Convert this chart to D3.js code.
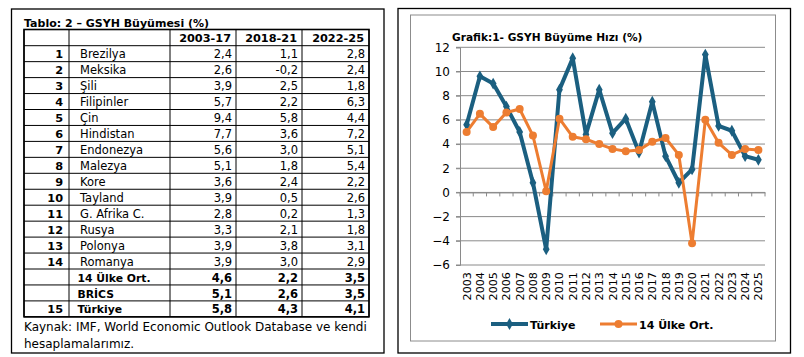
<!DOCTYPE html>
<html><head><meta charset="utf-8">
<script src="https://cdn.jsdelivr.net/npm/d3@7"></script>
<style>
html,body{margin:0;padding:0;background:#fff;}
svg{display:block;font-family:"DejaVu Sans",sans-serif;}
</style></head>
<body>
<script>
// ---------- DATA ----------
const tableTitle = "Tablo: 2 – GSYH Büyümesi (%)";
const periods = ["2003-17", "2018-21", "2022-25"];
const rowIndex = ["1","2","3","4","5","6","7","8","9","10","11","12","13","14","","","15"];
const countries = ["Brezilya","Meksika","Şili","Filipinler","Çin","Hindistan","Endonezya","Malezya","Kore","Tayland","G. Afrika C.","Rusya","Polonya","Romanya","14 Ülke Ort.","BRİCS","Türkiye"];
const p2003_17 = ["2,4","2,6","3,9","5,7","9,4","7,7","5,6","5,1","3,6","3,9","2,8","3,3","3,9","3,9","4,6","5,1","5,8"];
const p2018_21 = ["1,1","-0,2","2,5","2,2","5,8","3,6","3,0","1,8","2,4","0,5","0,2","2,1","3,8","3,0","2,2","2,6","4,3"];
const p2022_25 = ["2,8","2,4","1,8","6,3","4,4","7,2","5,1","5,4","2,2","2,6","1,3","1,8","3,1","2,9","3,5","3,5","4,1"];
const boldRows = [14, 15, 16];
const sourceNote = ["Kaynak: IMF, World Economic Outlook Database ve kendi", "hesaplamalarımız."];

const chartTitle = "Grafik:1- GSYH Büyüme Hızı (%)";
const years = ["2003","2004","2005","2006","2007","2008","2009","2010","2011","2012","2013","2014","2015","2016","2017","2018","2019","2020","2021","2022","2023","2024","2025"];
const turkiye = [5.6,9.6,9.0,7.1,5.0,0.8,-4.7,8.5,11.1,4.8,8.5,4.9,6.1,3.3,7.5,3.0,0.8,1.9,11.4,5.5,5.1,3.0,2.7];
const ulke14 = [5.0,6.5,5.4,6.6,6.9,4.7,0.1,6.1,4.6,4.4,4.0,3.6,3.4,3.5,4.2,4.5,3.1,-4.2,6.0,4.1,3.1,3.6,3.5];
const yTicks = [-6,-4,-2,0,2,4,6,8,10,12];
const seriesNames = ["Türkiye", "14 Ülke Ort."];

// ---------- DRAW ----------
const W = 804, H = 357;
const svg = d3.select("body").append("svg").attr("width", W).attr("height", H);

// ===== Table panel =====
svg.append("rect").attr("x", 11.5).attr("y", 9).attr("width", 372.5).attr("height", 344)
  .attr("fill", "none").attr("stroke", "#000").attr("stroke-width", 1.3);

svg.append("text").attr("x", 24).attr("y", 26.5).attr("font-size", 11).attr("font-weight", "bold")
  .text(tableTitle);

const colX = [24, 69, 170, 236, 302, 369];
const tTop = 29.5, headH = 16.2, rowH = 15.95;
const nRows = countries.length;
const tBottom = tTop + headH + nRows * rowH;
const g = svg.append("g");

const hLines = [tTop].concat(d3.range(nRows + 1).map(i => tTop + headH + i * rowH));
g.selectAll("line.h").data(hLines).join("line")
  .attr("x1", colX[0]).attr("x2", colX[5]).attr("y1", d => d).attr("y2", d => d)
  .attr("stroke", "#000").attr("stroke-width", 1);
g.selectAll("line.v").data(colX).join("line")
  .attr("x1", d => d).attr("x2", d => d).attr("y1", tTop).attr("y2", tBottom)
  .attr("stroke", "#000").attr("stroke-width", 1);
g.append("rect").attr("x", colX[0]).attr("y", tTop).attr("width", colX[5] - colX[0]).attr("height", tBottom - tTop)
  .attr("fill", "none").attr("stroke", "#000").attr("stroke-width", 1.6);

g.selectAll("text.hd").data(periods).join("text")
  .attr("x", (d, i) => colX[i + 3] - 5).attr("y", tTop + headH - 4)
  .attr("text-anchor", "end").attr("font-size", 11.3).attr("font-weight", "bold").text(d => d);

const rowY = i => tTop + headH + (i + 1) * rowH - 3.4;
g.selectAll("text.idx").data(rowIndex).join("text")
  .attr("x", colX[1] - 6).attr("y", (d, i) => rowY(i)).attr("text-anchor", "end")
  .attr("font-size", 11.3).attr("font-weight", "bold").text(d => d);
g.selectAll("text.ct").data(countries).join("text")
  .attr("x", (d, i) => colX[1] + (boldRows.includes(i) ? 8.5 : 11)).attr("y", (d, i) => rowY(i))
  .attr("font-size", (d, i) => boldRows.includes(i) ? 10.8 : 11.5)
  .attr("font-weight", (d, i) => boldRows.includes(i) ? "bold" : "normal").text(d => d);
[p2003_17, p2018_21, p2022_25].forEach((col, c) => {
  g.selectAll("text.v" + c).data(col).join("text")
    .attr("x", colX[c + 3] - 4).attr("y", (d, i) => rowY(i)).attr("text-anchor", "end")
    .attr("font-size", 11.5).attr("font-weight", (d, i) => boldRows.includes(i) ? "bold" : "normal").text(d => d);
});

svg.selectAll("text.src").data(sourceNote).join("text")
  .attr("x", 24).attr("y", (d, i) => 331 + i * 16.5).attr("font-size", 12).text(d => d);

// ===== Chart panel =====
svg.append("rect").attr("x", 398).attr("y", 8.5).attr("width", 392.5).attr("height", 344.5)
  .attr("fill", "none").attr("stroke", "#000").attr("stroke-width", 1.3);
svg.append("rect").attr("x", 410.5).attr("y", 15).attr("width", 365).attr("height", 326)
  .attr("fill", "none").attr("stroke", "#8c8c8c").attr("stroke-width", 1);

svg.append("text").attr("x", 452).attr("y", 40.5).attr("font-size", 10.6).attr("font-weight", "bold")
  .text(chartTitle);

const x = d3.scaleBand().domain(years).range([460, 765]).padding(0);
const y = d3.scaleLinear().domain([-6, 12]).range([265, 47.3]);

svg.append("g").selectAll("line").data(yTicks).join("line")
  .attr("x1", 456).attr("x2", 765).attr("y1", d => y(d)).attr("y2", d => y(d))
  .attr("stroke", "#8a8a8a").attr("stroke-width", 1);
const yAxis = svg.append("g").attr("transform", "translate(460,0)")
  .call(d3.axisLeft(y).tickValues(yTicks).tickSize(4).tickPadding(6).tickFormat(d3.format("d")));
yAxis.select(".domain").attr("stroke", "#8a8a8a");
yAxis.selectAll(".tick line").attr("stroke", "#8a8a8a");
yAxis.selectAll("text").attr("font-size", 12).attr("fill", "#000").attr("font-family", "DejaVu Sans");

const xAxis = svg.append("g").attr("transform", `translate(0,${y(0)})`)
  .call(d3.axisBottom(x).tickSize(0).tickFormat(""));
xAxis.select(".domain").attr("stroke", "#8a8a8a");
xAxis.selectAll(".tick").remove();
svg.append("g").selectAll("line").data(years.concat(["end"])).join("line")
  .attr("x1", (d, i) => 460 + i * x.bandwidth()).attr("x2", (d, i) => 460 + i * x.bandwidth())
  .attr("y1", y(0)).attr("y2", y(0) + 4).attr("stroke", "#8a8a8a");

svg.append("g").selectAll("text").data(years).join("text")
  .attr("transform", d => `translate(${x(d) + x.bandwidth() / 2 + 4},272) rotate(-90)`)
  .attr("text-anchor", "end").attr("font-size", 11.2).text(d => d);

const cx = d => x(d) + x.bandwidth() / 2;
const line = d3.line().x(d => cx(d[0])).y(d => y(d[1]));
const tData = years.map((yr, i) => [yr, turkiye[i]]);
const oData = years.map((yr, i) => [yr, ulke14[i]]);
const blue = "#1b5f80", orange = "#ed7d31";

svg.append("path").datum(tData).attr("d", line).attr("fill", "none")
  .attr("stroke", blue).attr("stroke-width", 4).attr("stroke-linejoin", "round");
svg.append("path").datum(oData).attr("d", line).attr("fill", "none")
  .attr("stroke", orange).attr("stroke-width", 3).attr("stroke-linejoin", "round");
svg.append("g").selectAll("path").data(tData).join("path")
  .attr("d", d3.symbol(d3.symbolDiamond, 40)())
  .attr("transform", d => `translate(${cx(d[0])},${y(d[1])})`).attr("fill", blue);
svg.append("g").selectAll("circle").data(oData).join("circle")
  .attr("cx", d => cx(d[0])).attr("cy", d => y(d[1])).attr("r", 4).attr("fill", orange);

const leg = svg.append("g");
leg.append("line").attr("x1", 491).attr("x2", 528).attr("y1", 324).attr("y2", 324).attr("stroke", blue).attr("stroke-width", 4);
leg.append("path").attr("d", d3.symbol(d3.symbolDiamond, 40)()).attr("transform", "translate(509.5,324)").attr("fill", blue);
leg.append("text").attr("x", 530).attr("y", 328.5).attr("font-size", 11).attr("font-weight", "bold").text(seriesNames[0]);
leg.append("line").attr("x1", 600).attr("x2", 637).attr("y1", 324).attr("y2", 324).attr("stroke", orange).attr("stroke-width", 3);
leg.append("circle").attr("cx", 618.5).attr("cy", 324).attr("r", 4).attr("fill", orange);
leg.append("text").attr("x", 639).attr("y", 328.5).attr("font-size", 11).attr("font-weight", "bold").text(seriesNames[1]);
</script>
</body></html>
